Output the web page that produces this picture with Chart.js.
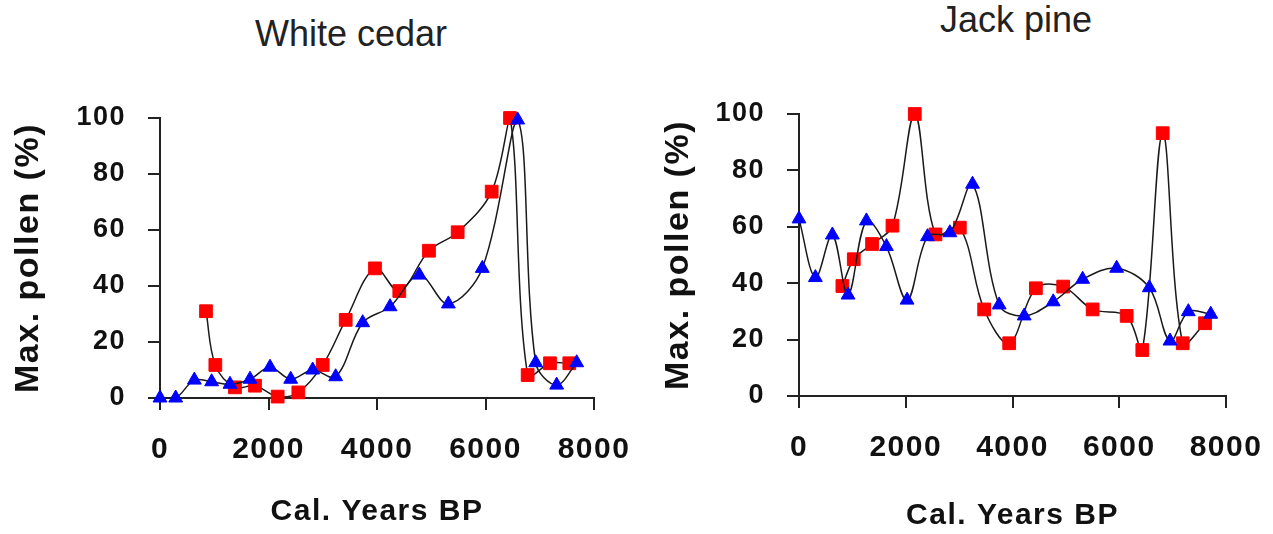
<!DOCTYPE html>
<html>
<head>
<meta charset="utf-8">
<script src="https://cdn.jsdelivr.net/npm/chart.js@4"></script>
<style>
  body { margin: 0; background: #fff; width: 1273px; height: 534px; position: relative; overflow: hidden; font-family: "Liberation Sans", Arial, sans-serif; }
  canvas { position: absolute; top: 0; }
  #cedarChart { left: 0; }
  #pineChart { left: 636px; }
  .chartTitle { position: absolute; font-size: 36px; line-height: 1; color: #222; white-space: nowrap; }
  #cedarTitle { left: 255px; top: 16px; }
  #pineTitle { left: 940px; top: 2px; }
</style>
</head>
<body>
<div class="chartTitle" id="cedarTitle">White cedar</div>
<div class="chartTitle" id="pineTitle">Jack pine</div>
<canvas id="cedarChart" width="636" height="534"></canvas>
<canvas id="pineChart" width="637" height="534"></canvas>
<script>
// White cedar
const cedarRedYears = [848, 1020, 1382, 1751, 2169, 2550, 2999, 3423, 3963, 4411, 4958, 5487, 6114, 6452, 6777, 7189, 7545];
const cedarRedPollen = [31, 11.8, 3.8, 4.4, 0.5, 2, 11.8, 27.9, 46.3, 38.2, 52.6, 59.2, 73.7, 100, 8.2, 12.4, 12.4];
const cedarBlueYears = [0, 289, 633, 952, 1290, 1659, 2028, 2409, 2814, 3238, 3736, 4240, 4780, 5315, 5941, 6593, 6925, 7312, 7681];
const cedarBluePollen = [0, 0, 6.4, 5.8, 4.9, 6.7, 11, 6.7, 10, 7.6, 26.9, 32.6, 43.9, 33.6, 46.3, 99.3, 12.6, 4.6, 12.6];

// Jack pine
const pineRedYears = [813, 1026, 1369, 1751, 2169, 2557, 3013, 3469, 3938, 4438, 4950, 5501, 6139, 6432, 6814, 7189, 7607];
const pineRedPollen = [39, 48.5, 53.9, 60.4, 100, 57.3, 59.7, 30.7, 18.7, 38.2, 38.8, 30.7, 28.4, 16.3, 93.2, 18.7, 25.8];
const pineBlueYears = [0, 307, 625, 919, 1263, 1638, 2025, 2407, 2826, 3251, 3750, 4219, 4763, 5314, 5951, 6563, 6951, 7294, 7714];
const pineBluePollen = [62.8, 42, 57.1, 35.8, 62.1, 53, 34, 56.5, 57.9, 75.1, 32.3, 28.4, 33.4, 41.4, 45.3, 38.4, 19.5, 29.9, 29];

const yTicks = [0, 20, 40, 60, 80, 100];
const xTicks = [0, 2000, 4000, 6000, 8000];
const yTitle = 'Max. pollen (%)';
const xTitle = 'Cal. Years BP';

// canvas text in the picture is letter-spaced
const spacedText = {
    id: 'spacedText',
    beforeUpdate: chart => { chart.ctx.letterSpacing = '1.5px'; },
    beforeDraw: chart => { chart.ctx.letterSpacing = '1.5px'; }
};

const toPoints = (xs, ys) => xs.map((x, i) => ({ x: x, y: ys[i] }));

const makeChart = (id, red, blue, geo) => new Chart(document.getElementById(id), {
    type: 'line',
    data: {
        datasets: [{
            data: blue,
            borderColor: '#1a1a1a',
            borderWidth: 1.5,
            tension: 0.35,
            pointStyle: 'triangle',
            pointRadius: 8,
            pointBackgroundColor: '#0000ff',
            pointBorderColor: '#0000ff',
            pointBorderWidth: 1,
            clip: false
        }, {
            data: red,
            borderColor: '#1a1a1a',
            borderWidth: 1.5,
            tension: 0.35,
            pointStyle: 'rect',
            pointRadius: 9,
            pointBackgroundColor: '#ff0000',
            pointBorderColor: '#ff0000',
            pointBorderWidth: 1,
            clip: false
        }]
    },
    options: {
        responsive: false,
        animation: false,
        layout: { padding: { top: geo.top, right: geo.right, left: 0, bottom: 0 } },
        plugins: { legend: { display: false }, tooltip: { enabled: false } },
        scales: {
            x: {
                type: 'linear',
                min: 0,
                max: 8000,
                afterBuildTicks: s => { s.ticks = xTicks.map(v => ({ value: v })); },
                afterFit: s => { s.height = geo.xHeight; s.paddingLeft = 0; s.paddingRight = 0; },
                grid: { drawOnChartArea: false, tickLength: 12, color: '#222', lineWidth: 2 },
                border: { display: true, color: '#222', width: 2 },
                ticks: { color: '#111', padding: 22, maxRotation: 0, autoSkip: false, callback: v => String(v), font: { family: 'Liberation Sans', size: 30, weight: 'bold' } },
                title: { display: true, text: xTitle, color: '#111', padding: { top: 0, bottom: geo.xTitlePad }, font: { family: 'Liberation Sans', size: 30, weight: 'bold' } }
            },
            y: {
                min: 0,
                max: 100,
                afterBuildTicks: s => { s.ticks = yTicks.map(v => ({ value: v })); },
                afterFit: s => { s.width = geo.yWidth; s.paddingTop = 0; s.paddingBottom = 0; },
                grid: { drawOnChartArea: false, tickLength: 12, color: '#222', lineWidth: 2 },
                border: { display: true, color: '#222', width: 2 },
                ticks: { color: '#111', padding: 22, callback: v => String(v), font: { family: 'Liberation Sans', size: 27, weight: 'bold' } },
                title: { display: true, text: yTitle, color: '#111', padding: { top: geo.yTitlePad, bottom: 0 }, font: { family: 'Liberation Sans', size: 34, weight: 'bold' } }
            }
        }
    },
    plugins: [spacedText]
});

makeChart('cedarChart', toPoints(cedarRedYears, cedarRedPollen), toPoints(cedarBlueYears, cedarBluePollen),
    { top: 118, right: 42, xHeight: 136, yWidth: 160, xTitlePad: 4, yTitlePad: 8 });
makeChart('pineChart', toPoints(pineRedYears, pineRedPollen), toPoints(pineBlueYears, pineBluePollen),
    { top: 114, right: 47, xHeight: 138, yWidth: 163, xTitlePad: 0, yTitlePad: 22 });
</script>
</body>
</html>
